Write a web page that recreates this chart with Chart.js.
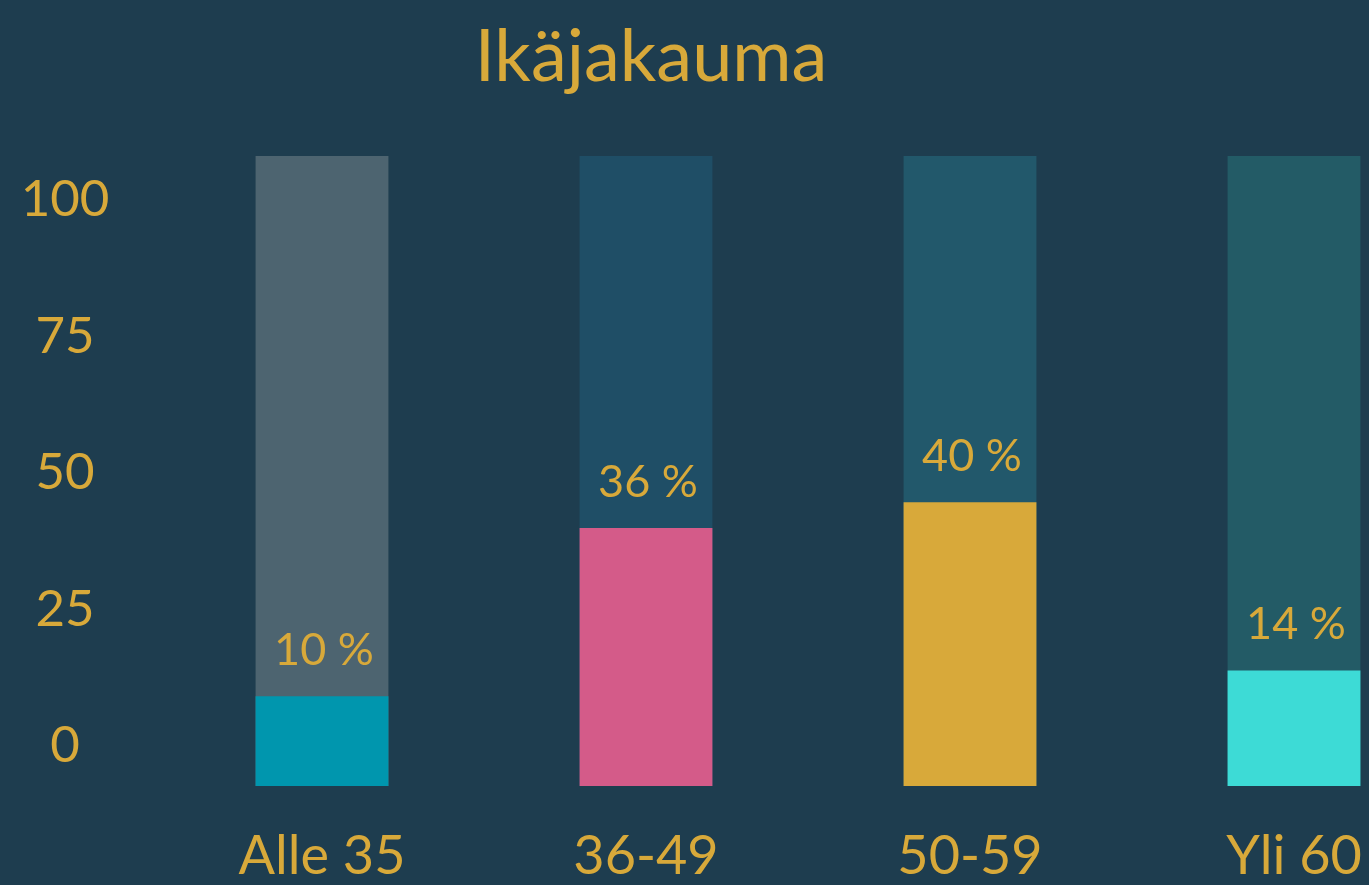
<!DOCTYPE html>
<html lang="fi">
<head>
<meta charset="utf-8">
<title>Ikäjakauma</title>
<script src="https://cdn.jsdelivr.net/npm/chart.js@4.4.1/dist/chart.umd.min.js"></script>
<style>
  html, body { margin: 0; padding: 0; background: #1e3d4f; overflow: hidden; }
  #wrap { width: 1456px; height: 885px; }
  canvas { display: block; }
</style>
</head>
<body>
<div id="wrap"><canvas id="ageChart" width="1456" height="885"></canvas></div>
<script>
// ---- data ----
const categories = ['Alle 35', '36-49', '50-59', 'Yli 60'];
const shares = [10, 36, 40, 14];            // osuus, %
const trackValues = [100, 100, 100, 100];   // full-height backing bars
const yTickValues = [0, 25, 50, 75, 100];

// ---- look ----
const titleText = 'Ikäjakauma';
const gold = '#d8a93a';
const barColors = ['#0096ae', '#d45b89', '#d8a93a', '#3ddbd6'];
const trackColors = ['#4d6470', '#1f4e66', '#22586b', '#235b66'];
const fontFamily = 'Lato, "Open Sans", sans-serif';

// centre the y tick labels in the left gutter
const measure = document.createElement('canvas').getContext('2d');
measure.font = '51px ' + fontFamily;
const widestTick = Math.max(...yTickValues.map(v => measure.measureText(String(v)).width));
const yAxisWidth = 160;
const yTickPadding = yAxisWidth - 65 - widestTick / 2;

// title + "xx %" labels over the bars
const titlePlugin = {
    id: 'slideTitle',
    afterDraw(chart) {
        const c = chart.ctx;
        c.save();
        c.font = '72px ' + fontFamily;
        c.fillStyle = gold;
        c.textAlign = 'center';
        c.textBaseline = 'alphabetic';
        c.fillText(titleText, 651, 81);
        c.restore();
    }
};

const valueLabels = {
    id: 'valueLabels',
    afterDatasetsDraw(chart) {
        const meta = chart.getDatasetMeta(0);
        const c = chart.ctx;
        c.save();
        c.font = '45px ' + fontFamily;
        c.fillStyle = gold;
        c.textAlign = 'center';
        c.textBaseline = 'alphabetic';
        meta.data.forEach((bar, i) => {
            c.fillText(shares[i] + ' %', bar.x + 2, bar.y - 31);
        });
        c.restore();
    }
};

const ctx = document.getElementById('ageChart').getContext('2d');

new Chart(ctx, {
    type: 'bar',
    data: {
        labels: categories,
        datasets: [
            {
                label: 'Osuus',
                data: shares,
                backgroundColor: barColors,
                yAxisID: 'yBars',
                base: -3.85,
                grouped: false,
                barPercentage: 0.41,
                categoryPercentage: 1
            },
            {
                label: 'Tausta',
                data: trackValues,
                backgroundColor: trackColors,
                yAxisID: 'yTrack',
                grouped: false,
                barPercentage: 0.41,
                categoryPercentage: 1
            }
        ]
    },
    options: {
        responsive: false,
        animation: false,
        layout: { padding: { top: 156, right: 0, bottom: 0, left: 0 } },
        plugins: {
            legend: { display: false },
            tooltip: { enabled: false },
            title: { display: false }
        },
        scales: {
            x: {
                grid: { display: false, drawTicks: false },
                border: { display: false },
                ticks: {
                    color: gold,
                    font: { family: fontFamily, size: 54 },
                    padding: 38
                },
                afterFit(scale) { scale.height = 99; }
            },
            y: {
                position: 'left',
                min: -7.33,
                max: 108.06,
                grid: { display: false, drawTicks: false },
                border: { display: false },
                ticks: {
                    color: gold,
                    font: { family: fontFamily, size: 51 },
                    padding: yTickPadding,
                    crossAlign: 'center'
                },
                afterBuildTicks(scale) {
                    scale.ticks = yTickValues.map(v => ({ value: v }));
                },
                afterFit(scale) { scale.width = yAxisWidth; }
            },
            yBars: { display: false, min: -3.85, max: 93.48 },
            yTrack: { display: false, min: 0, max: 100 }
        }
    },
    plugins: [valueLabels, titlePlugin]
});
</script>
</body>
</html>
